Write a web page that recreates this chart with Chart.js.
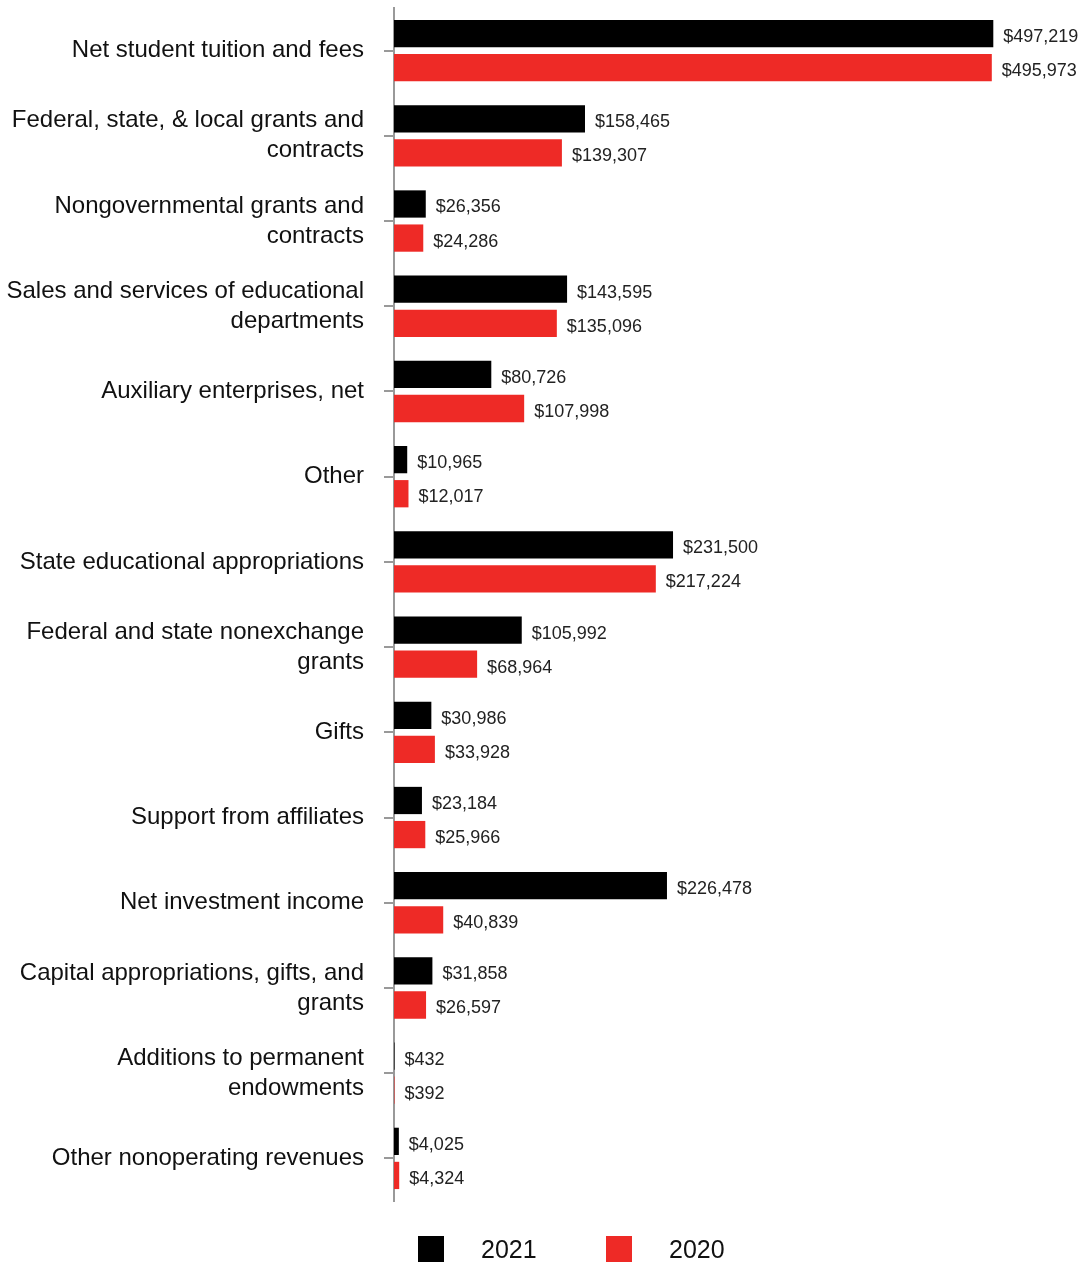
<!DOCTYPE html>
<html>
<head>
<meta charset="utf-8">
<script src="https://cdn.jsdelivr.net/npm/chart.js@4.4.0/dist/chart.umd.min.js"></script>
<style>
  body { margin: 0; background: #fff; }
  canvas { display: block; }
</style>
</head>
<body>
<canvas id="revenueChart" width="1081" height="1262"></canvas>
<script>
// revenue categories (multi-line labels as arrays)
const categories = [
    "Net student tuition and fees",
    ["Federal, state, & local grants and", "contracts"],
    ["Nongovernmental grants and", "contracts"],
    ["Sales and services of educational", "departments"],
    "Auxiliary enterprises, net",
    "Other",
    "State educational appropriations",
    ["Federal and state nonexchange", "grants"],
    "Gifts",
    "Support from affiliates",
    "Net investment income",
    ["Capital appropriations, gifts, and", "grants"],
    ["Additions to permanent", "endowments"],
    "Other nonoperating revenues"
];

const values2021 = [497219, 158465, 26356, 143595, 80726, 10965, 231500, 105992, 30986, 23184, 226478, 31858, 432, 4025];
const values2020 = [495973, 139307, 24286, 135096, 107998, 12017, 217224, 68964, 33928, 25966, 40839, 26597, 392, 4324];

const FONT = "'Liberation Sans', Arial, sans-serif";

// draws "$x,xxx" to the right of each bar
const valueLabels = {
    id: 'valueLabels',
    afterDatasetsDraw(chart) {
        const ctx = chart.ctx;
        ctx.save();
        ctx.font = "18px " + FONT;
        ctx.fillStyle = "#222";
        ctx.textBaseline = "middle";
        ctx.textAlign = "left";
        chart.data.datasets.forEach((ds, di) => {
            const meta = chart.getDatasetMeta(di);
            meta.data.forEach((bar, i) => {
                const txt = "$" + ds.data[i].toLocaleString("en-US");
                ctx.fillText(txt, bar.x + 10, bar.y + 3.5);
            });
        });
        ctx.restore();
    }
};

// legend at the bottom, spaced like the original
const bottomLegend = {
    id: 'bottomLegend',
    afterDraw(chart) {
        const ctx = chart.ctx;
        ctx.save();
        ctx.font = "25px " + FONT;
        ctx.textBaseline = "middle";
        var x = 418;
        chart.data.datasets.forEach((ds) => {
            ctx.fillStyle = ds.backgroundColor;
            ctx.fillRect(x, 1236, 26, 26);
            ctx.fillStyle = "#111";
            ctx.fillText(ds.label, x + 63, 1251);
            x += 188;
        });
        ctx.restore();
    }
};

var ctx = document.getElementById('revenueChart').getContext('2d');

var data = {
    labels: categories,
    datasets: [{
        label: '2021',
        data: values2021,
        backgroundColor: '#000000',
        categoryPercentage: 0.8,
        barPercentage: 0.8
    }, {
        label: '2020',
        data: values2020,
        backgroundColor: '#ee2a26',
        categoryPercentage: 0.8,
        barPercentage: 0.8
    }]
};

var options = {
    indexAxis: 'y',
    responsive: false,
    animation: false,
    layout: {
        padding: { top: 8, right: 6, bottom: 61, left: 0 }
    },
    plugins: {
        legend: { display: false },
        tooltip: { enabled: false }
    },
    scales: {
        x: {
            display: false,
            min: 0,
            max: 565000
        },
        y: {
            afterFit: function (scale) {
                scale.width = 394;
                scale.paddingTop = 0;
                scale.paddingBottom = 0;
            },
            border: {
                display: true,
                color: '#999',
                width: 2
            },
            grid: {
                offset: false,
                drawOnChartArea: false,
                color: '#999',
                lineWidth: 2,
                tickLength: 10
            },
            ticks: {
                padding: 20,
                color: '#111',
                font: { family: FONT, size: 24, lineHeight: 1.25 }
            }
        }
    }
};

var myChart = new Chart(ctx, {
    type: 'bar',
    data: data,
    options: options,
    plugins: [valueLabels, bottomLegend]
});
</script>
</body>
</html>
